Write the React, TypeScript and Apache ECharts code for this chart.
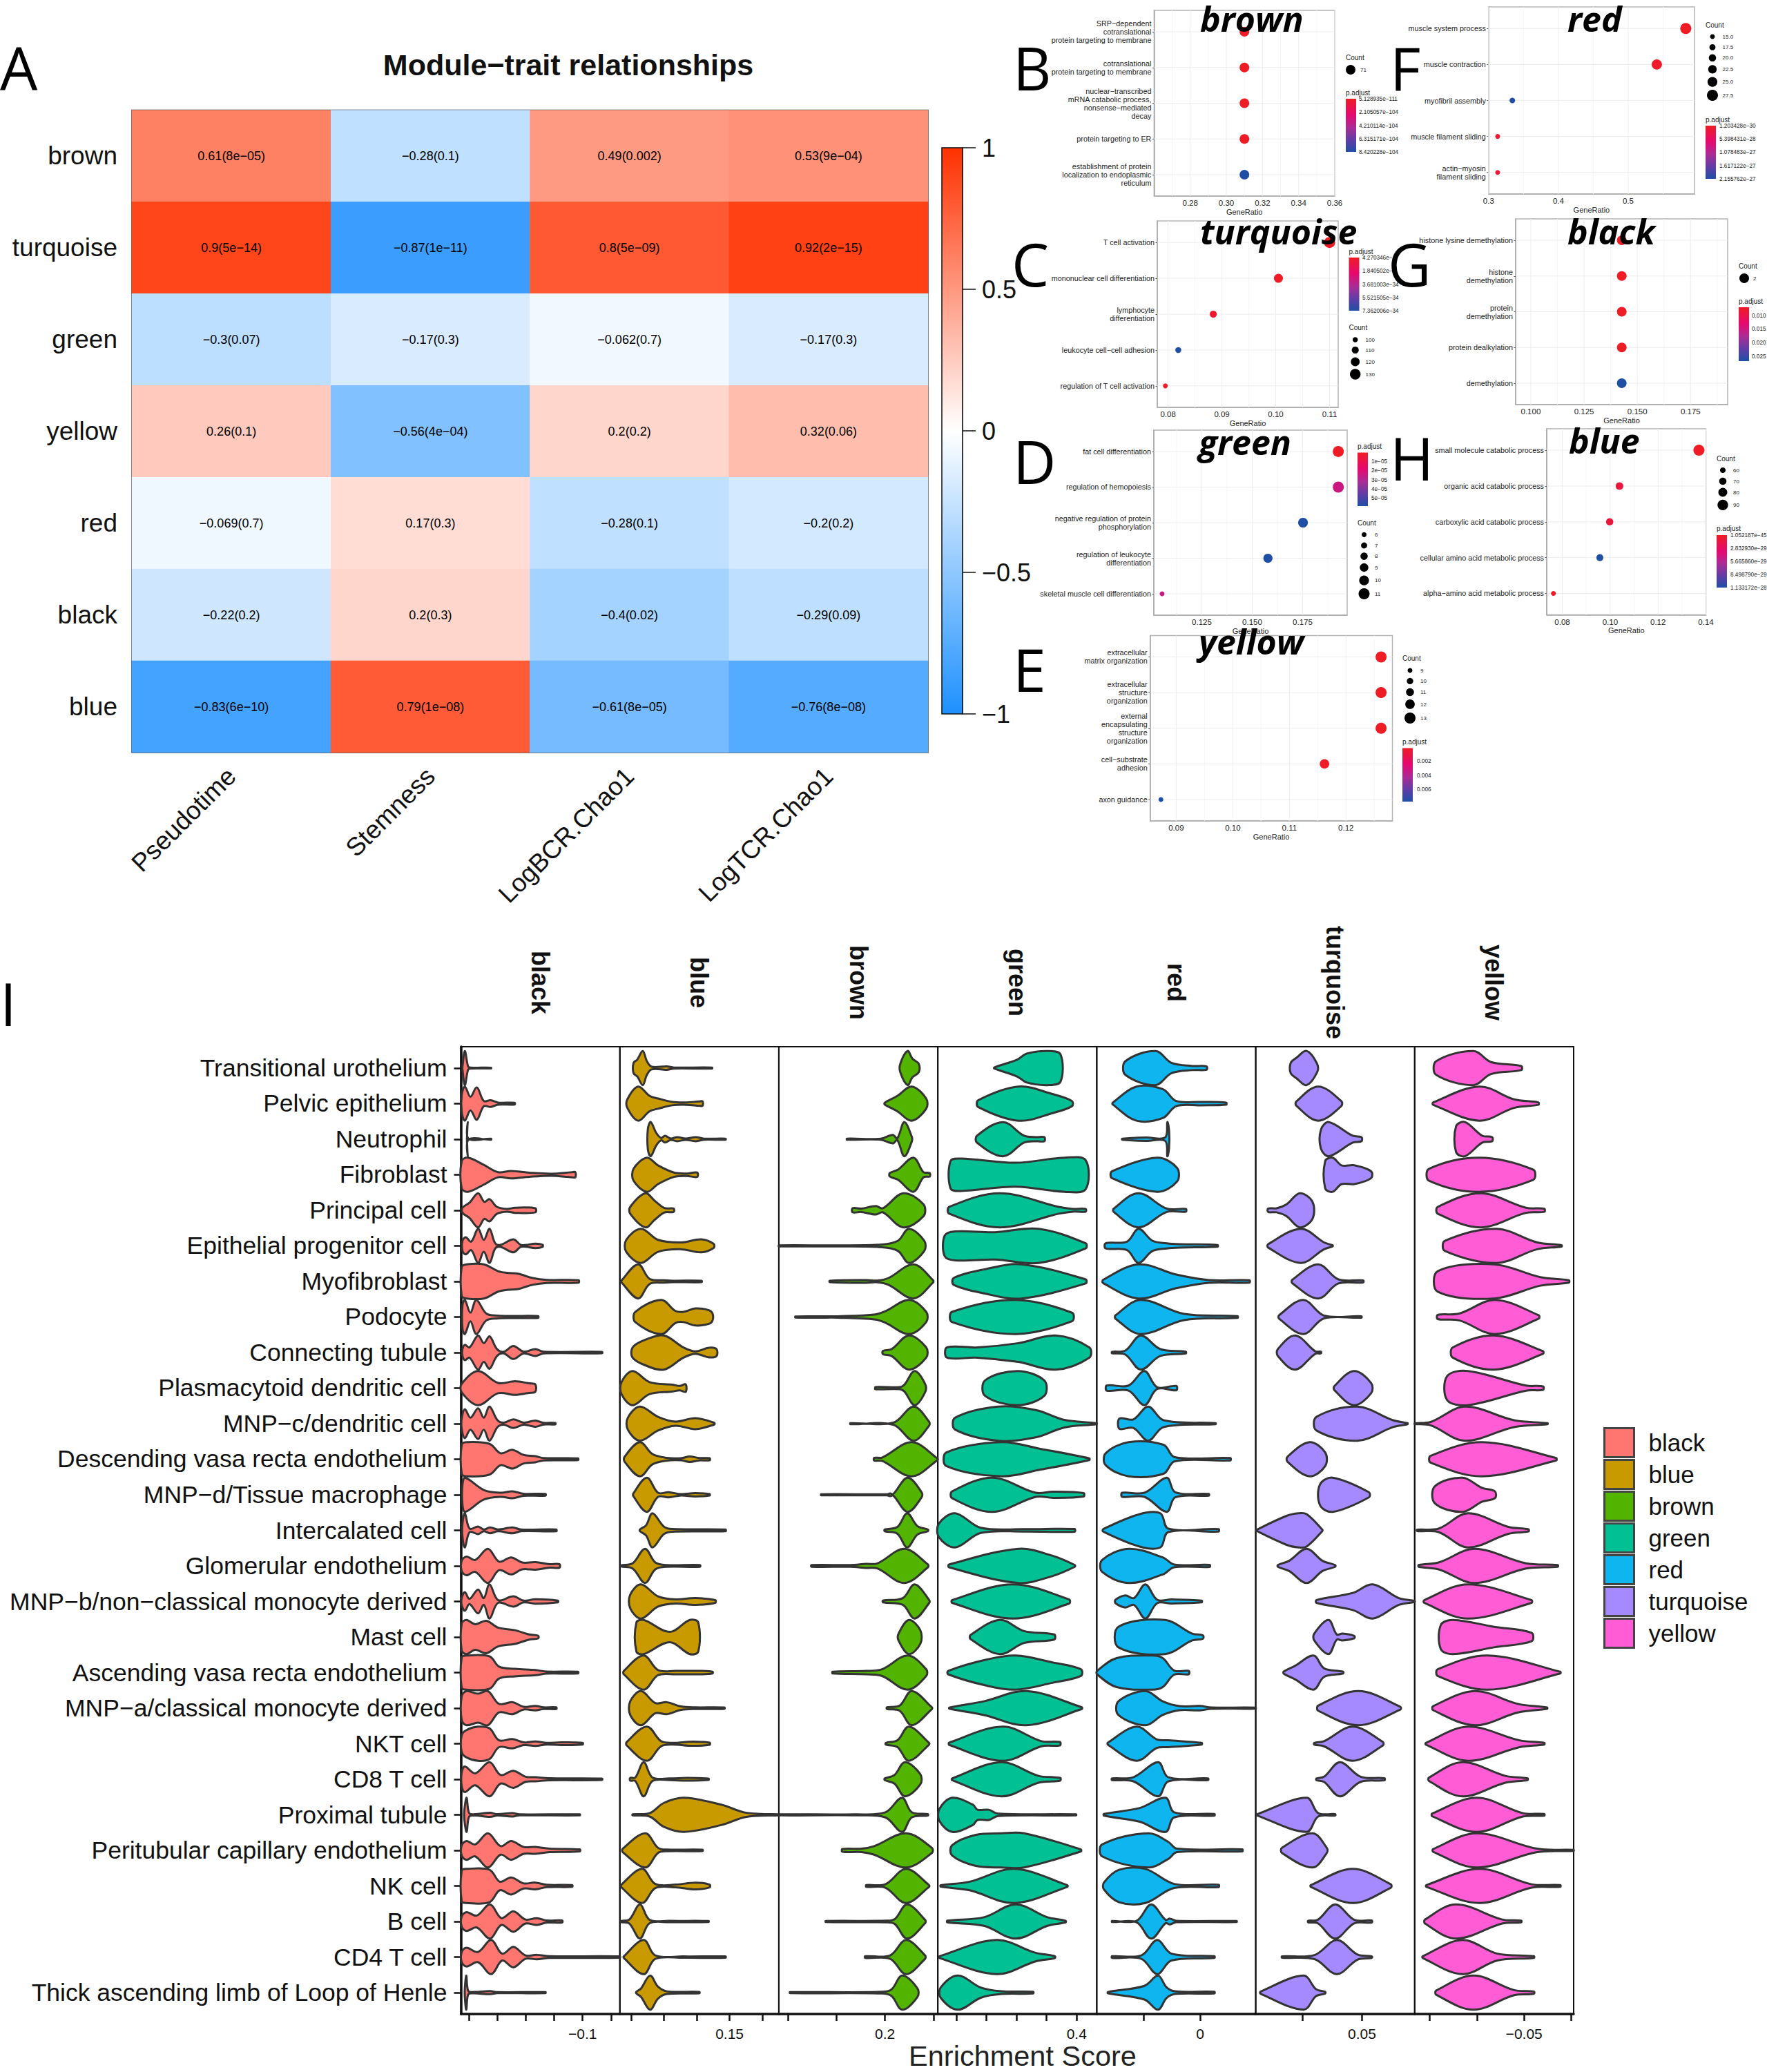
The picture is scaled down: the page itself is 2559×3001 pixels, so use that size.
import React, { useEffect, useRef } from "react";
import * as echarts from "echarts";

const SANS = "Liberation Sans";
const OPEN = "Open Sans";

/* ---------- A: module-trait heatmap data ---------- */
const modules = ["brown", "turquoise", "green", "yellow", "red", "black", "blue"];
const traits = ["Pseudotime", "Stemness", "LogBCR.Chao1", "LogTCR.Chao1"];
const corr = [
  [0.61, -0.28, 0.49, 0.53],
  [0.9, -0.87, 0.8, 0.92],
  [-0.3, -0.17, -0.062, -0.17],
  [0.26, -0.56, 0.2, 0.32],
  [-0.069, 0.17, -0.28, -0.2],
  [-0.22, 0.2, -0.4, -0.29],
  [-0.83, 0.79, -0.61, -0.76],
];
const pvals = [
  ["8e−05", "0.1", "0.002", "9e−04"],
  ["5e−14", "1e−11", "5e−09", "2e−15"],
  ["0.07", "0.3", "0.7", "0.3"],
  ["0.1", "4e−04", "0.2", "0.06"],
  ["0.7", "0.3", "0.1", "0.2"],
  ["0.2", "0.3", "0.02", "0.09"],
  ["6e−10", "1e−08", "8e−05", "8e−08"],
];
const colorbarTicks = [-1, -0.5, 0, 0.5, 1];

/* ---------- B–H: GO dot plot data ---------- */
const brownTerms = ["SRP−dependent\ncotranslational\nprotein targeting to membrane", "cotranslational\nprotein targeting to membrane", "nuclear−transcribed\nmRNA catabolic process,\nnonsense−mediated\ndecay", "protein targeting to ER", "establishment of protein\nlocalization to endoplasmic\nreticulum"];
const brownRatio = [0.31, 0.31, 0.31, 0.31, 0.31];
const brownCount = [71, 71, 71, 71, 71];
const brownPadj = [5.1e-111, 5.1e-111, 5.1e-111, 5.1e-111, 8.42e-104];

const redTerms = ["muscle system process", "muscle contraction", "myofibril assembly", "muscle filament sliding", "actin−myosin\nfilament sliding"];
const redRatio = [0.5825, 0.541, 0.334, 0.313, 0.313];
const redCount = [27.5, 26, 16.5, 15, 15];
const redPadj = [1.2e-30, 5e-29, 2.155e-27, 1.5e-28, 1.5e-28];

const turquoiseTerms = ["T cell activation", "mononuclear cell differentiation", "lymphocyte\ndifferentiation", "leukocyte cell−cell adhesion", "regulation of T cell activation"];
const turquoiseRatio = [0.11, 0.1005, 0.0884, 0.0819, 0.0795];
const turquoiseCount = [132, 121, 110, 104, 98];
const turquoisePadj = [4.27e-39, 1e-37, 3e-35, 7.36e-34, 3e-36];

const blackTerms = ["histone lysine demethylation", "histone\ndemethylation", "protein\ndemethylation", "protein dealkylation", "demethylation"];
const blackRatio = [0.1427, 0.1427, 0.1427, 0.1427, 0.1427];
const blackCount = [2, 2, 2, 2, 2];
const blackPadj = [0.0055, 0.0055, 0.0055, 0.0055, 0.028];

const greenTerms = ["fat cell differentiation", "regulation of hemopoiesis", "negative regulation of protein\nphosphorylation", "regulation of leukocyte\ndifferentiation", "skeletal muscle cell differentiation"];
const greenRatio = [0.1927, 0.1927, 0.1752, 0.1578, 0.1053];
const greenCount = [11, 11, 10, 9.5, 6];
const greenPadj = [2e-6, 2.4e-5, 5.6e-5, 5.6e-5, 2.6e-5];

const blueTerms = ["small molecule catabolic process", "organic acid catabolic process", "carboxylic acid catabolic process", "cellular amino acid metabolic process", "alpha−amino acid metabolic process"];
const blueRatio = [0.1371, 0.1039, 0.0998, 0.0957, 0.0763];
const blueCount = [93, 72, 70, 68, 55];
const bluePadj = [1e-45, 1e-29, 1e-29, 1.13e-28, 1e-30];

const yellowTerms = ["extracellular\nmatrix organization", "extracellular\nstructure\norganization", "external\nencapsulating\nstructure\norganization", "cell−substrate\nadhesion", "axon guidance"];
const yellowRatio = [0.1262, 0.1262, 0.1262, 0.1162, 0.0873];
const yellowCount = [13, 13, 13, 12, 9];
const yellowPadj = [1e-5, 1e-5, 1e-5, 1e-4, 0.0075];

/* ---------- I: violin data. Each row is a flat density profile:
   position (% along the panel's score range), relative density, ... ---------- */
const cellTypes = ["Transitional urothelium", "Pelvic epithelium", "Neutrophil", "Fibroblast", "Principal cell", "Epithelial progenitor cell", "Myofibroblast", "Podocyte", "Connecting tubule", "Plasmacytoid dendritic cell", "MNP−c/dendritic cell", "Descending vasa recta endothelium", "MNP−d/Tissue macrophage", "Intercalated cell", "Glomerular endothelium", "MNP−b/non−classical monocyte derived", "Mast cell", "Ascending vasa recta endothelium", "MNP−a/classical monocyte derived", "NKT cell", "CD8 T cell", "Proximal tubule", "Peritubular capillary endothelium", "NK cell", "B cell", "CD4 T cell", "Thick ascending limb of Loop of Henle"];

const violinBlack = [
  [1,.1,2.5,1,4.5,.1,6,.03,19,.02],
  [.5,.5,2.5,1,6,.4,10,.95,14.4,.15,18.7,.2,23.4,.06,33.8,.05],
  [3.8,.03,4.3,1,4.8,.03,19,.03],
  [.5,.8,4.5,1,14,.6,23.4,.15,31.6,.22,43,.12,57,.06,70,.15,72,.15],
  [1,.15,5.4,.45,10.8,1,14.7,.5,18,.65,22.7,.2,29,.08,34,.15,46.8,.12],
  [1,.3,3,.5,6.5,.25,10.8,1,14.4,.35,18,1,21.6,.15,25,.06,33,.38,38,.05,46.8,.13,51.4,.06],
  [.5,.85,3.5,1,14.4,1,23.4,.6,29,.5,36,.45,45,.2,54,.09,74,.07],
  [1,.7,2.5,1,6,.25,9.7,1,16,.2,23.4,.08,33,.06,48.6,.05],
  [1,.2,2.5,.45,5.4,.3,10.8,1,14.4,.55,18,.95,22.7,.2,27,.05,33,.38,39.5,.05,46.8,.2,52,.05,88.8,.04],
  [.5,.25,10.8,1,23.4,.3,34,.4,43,.28,46.8,.22],
  [.5,.3,2.5,.85,6,.35,10.8,.9,14.4,.35,18,1,23,.2,27,.06,33,.25,39.5,.06,46.8,.18,52,.05,59.4,.04],
  [.5,.85,3.5,1,18,.9,25,.35,32.4,.55,39.5,.25,46.8,.18,52,.07,73.7,.05],
  [1,.6,2.7,1,14.4,.28,25,.12,32.4,.2,39.5,.06,53.2,.05],
  [1,.4,2.5,1,5.5,.1,10.8,.22,14.4,.05,18.3,.17,23.4,.05,32.4,.17,37.8,.05,60,.05],
  [.5,.3,3.5,.55,9,.35,17,1,24,.25,31.6,.5,38.5,.2,46.8,.22,55.8,.1,62,.1],
  [.5,.2,2.5,.55,5.4,.15,10.8,.7,14.4,.2,18,1,23.4,.08,33,.3,39.5,.05,46.8,.13,61,.05],
  [.5,.8,3.5,1,9,.75,16,.95,23.4,.55,34,.4,43,.15,48.6,.08],
  [.5,.9,3.5,1,18,.95,24,.35,34,.22,46.8,.15,54,.06,73.7,.05],
  [.5,.7,3.5,1,10.8,.85,17,1,24,.25,32.4,.35,39.5,.08,46.8,.13,52,.05,60,.05],
  [.5,.5,3.5,.8,10.8,1,18,.9,24,.2,32.4,.27,39.5,.08,46.8,.13,54,.05,63,.08,76.6,.05],
  [.5,.4,2.5,.75,9,.35,18,1,25,.25,33,.5,40.6,.15,46.8,.12,55.8,.06,88.8,.04],
  [2.2,.3,3.6,1,5.2,.1,9,.04,18.3,.12,23,.04,32.4,.1,37,.03,74.8,.03],
  [.5,.3,3.5,.55,9,.35,17,1,25,.25,31.6,.55,39.5,.2,46.8,.2,55.8,.1,74.8,.06],
  [.5,.9,3.5,1,18,.95,24.5,.25,31.6,.5,39.5,.15,46.8,.2,54,.07,70,.05],
  [.5,.3,3.5,.55,10,.35,18.3,1,25.5,.2,33,.6,40.6,.12,47.8,.2,54,.06,63.7,.06],
  [.5,.3,3.5,.55,10.8,.3,19,1,26,.2,33,.6,40.6,.1,47.8,.13,55.8,.05,100,.04],
  [2.5,.3,3.4,1,4.6,.1,8,.04,18.3,.09,23,.03,53.2,.03],
];
const violinBlue = [
  [8.6,.3,11,.5,14.4,1,17,.4,20,.08,29.5,.1,34,.03,58,.03],
  [4.7,.25,11.5,1,18.7,.45,24,.3,33,.1,42,.07,50,.13,52,.13],
  [17.6,.6,19.4,1,23,.35,26,.07,28.4,.2,32,.04,36,.12,41.4,.04,47.8,.12,53,.03,66.5,.03],
  [8.6,.35,17,1,24,.55,34,.13,42,.07,48.6,.13],
  [6.5,.2,16,1,22,.55,28,.13,33.8,.1],
  [4,.35,13.3,1,24,.35,38.5,.2,51,.38,59,.12],
  [1,.05,11.5,1,18.7,.15,27.7,.07,34,.04,51.4,.04],
  [9.7,.3,26,1,35,.35,40,.3,47.5,.5,56,.4,58.3,.2],
  [8,.3,16,.75,27.7,1,40,.3,47.5,.07,56,.28,60.8,.2],
  [1,.35,8,1,18.7,.35,33,.2,37.7,.13,41.4,.22],
  [5,.35,12.6,1,24,.4,35,.12,47.5,.32,59.4,.05],
  [3,.15,12.6,1,20.5,.3,29.5,.08,38.5,.06,43.9,.16,50,.07,56.5,.06],
  [8.6,.1,17,1,24,.12,30.6,.15,38.5,.04,47.5,.1,56.5,.04],
  [12.6,.05,16.5,.3,20.5,1,27.7,.22,33,.08,66.5,.05],
  [.7,.03,8,.15,15.8,1,22.3,.2,29.5,.05,50.4,.05],
  [6.5,.4,13.3,1,24,.3,35,.12,47.5,.2,60,.08],
  [10.4,.85,15,1,31.3,.3,44,1,49.3,.85],
  [2.5,.1,15,1,24,.15,35,.1,51,.1,58.3,.05],
  [6.5,.4,13.3,1,22.3,.3,29.5,.35,38.5,.1,47.5,.05,65.8,.04],
  [4.3,.1,17,1,25.9,.15,33,.05,45.7,.12,56.5,.06],
  [6.5,.08,9.7,.1,15,1,20.5,.1,31.3,.05,42,.08,55.8,.04],
  [8,.03,18.7,.1,27.7,.7,40.3,1,63.7,.6,78,.15,89,.05,100,.03],
  [1.8,.1,16,1,24,.15,29.5,.05,52,.04],
  [1,.08,14,1,22.3,.12,35,.08,47.5,.2,56.5,.08],
  [.7,.03,6,.12,12.6,1,18.7,.1,31,.04,55.8,.03],
  [2.5,.05,15,1,22.3,.1,40,.04,66.5,.04],
  [10.4,.05,13.3,.25,19,1,24,.35,29.5,.08,50,.04],
];
const violinBrown = [
  [76.4,.25,81,1,84,.55,88,.25],
  [66.6,.05,74.5,.45,83.6,1,92.7,.3],
  [42.8,.03,64,.03,71.7,.25,74.5,.05,78.9,1,83.6,.15],
  [69.8,.1,75,.3,84.7,1,91,.15,94.9,.1],
  [46.4,.12,52,.1,61,.25,65.5,.12,78.2,1,91,.35],
  [0,.03,35,.03,65,.08,75,.3,81.8,1,91.5,.3],
  [32,.04,55,.08,62,.05,69,.2,84.7,1,97,.07],
  [10.4,.03,25,.04,37,.04,60.8,.15,67.3,.35,81.8,1,92.7,.3],
  [65.5,.1,70.9,.2,81.8,1,92.7,.3],
  [60.8,.06,76,.06,79,.2,85.4,1,92,.25],
  [45,.03,72,.06,84.7,1,94.5,.12],
  [60,.08,65,.1,83.6,1,99.8,.05],
  [26.6,.03,68,.03,70,.08,72,.05,81,1,89.8,.15],
  [66.6,.05,74.6,.2,80.7,1,87.2,.25,93.8,.05],
  [20.5,.05,45,.05,55,.12,62,.15,79,1,93.8,.08],
  [65.5,.05,78,.2,85.4,1,94.5,.1],
  [75.3,.2,81.8,1,89,.4],
  [33.8,.05,55,.1,65,.2,81,1,92.7,.2],
  [68,.05,76,.15,83.6,1,96.3,.05],
  [67.3,.05,74.6,.2,81.8,1,94.5,.05],
  [66.6,.05,72.7,.25,79.3,1,89,.3],
  [0,.03,48,.03,67,.15,77.5,1,83.6,.15,93.8,.04],
  [40,.08,52,.1,60,.25,80,1,96.3,.15],
  [55,.05,67,.1,80,1,94.5,.05],
  [29.5,.03,68,.05,73,.15,80.7,1,92,.1],
  [54.3,.05,70,.1,80,1,92,.1],
  [7,.03,65,.05,71,.2,77.5,1,87.2,.25],
];
const violinGreen = [
  [35.5,.03,50,.5,56,.85,69,1,77.2,.8],
  [25.4,.2,50.7,1,72.5,.55,84.4,.15],
  [24.6,.2,41,1,54.3,.2,62,.12,67,.12],
  [8,.8,14.5,.95,49,.7,79.7,1,93,.85],
  [7.2,.2,39,1,76,.2,85,.08,93,.08],
  [4.3,.6,10.9,.85,36,.8,63.4,1,93,.15],
  [10,.2,29,.7,52.5,1,93,.12],
  [9,.3,49,1,84.4,.25],
  [5.8,.3,25,.3,50.7,.55,74.3,1,95.3,.3],
  [29.7,.45,50,1,67,.45],
  [10.9,.35,38,1,61.6,.8,79.7,.22,100,.03],
  [5.4,.4,40,1,65,.6,95.3,.05],
  [9,.2,34.4,1,61.6,.12,72.5,.18,91.7,.1],
  [.7,.4,10.9,1,27,.15,54,.07,86,.08],
  [7,.08,50.7,1,72,.6,86.2,.05],
  [9,.08,47,1,82.6,.12],
  [20.6,.12,39,1,54.3,.35,73.2,.15],
  [6.5,.1,30,.75,49,1,72,.6,90,.2],
  [7.2,.03,29,.4,56,1,90.6,.05],
  [7.2,.07,41,1,65.2,.15,76.8,.1],
  [9,.05,40,1,63.4,.2,77,.08],
  [1,.35,9,1,22,.6,25,.3,32,.3,38,.07,87,.03],
  [9,.3,23.5,.9,40,1,54.3,1,90,.06],
  [1.8,.04,20,.25,48,1,81.5,.05],
  [6,.05,29,.25,49,1,69,.25,80.4,.05],
  [1,.05,37,1,61.6,.25,73.6,.06],
  [1.8,.3,12.7,1,27,.3,40,.08,60,.05],
];
const violinRed = [
  [18,.4,37,1,47,.3,60,.12,69,.1],
  [10,.05,25,1,41.5,.85,50,.15,65,.1,81.4,.06],
  [16,.03,31,.1,43,.1,44.4,1,45.5,.5],
  [9.6,.2,38,1,50.5,.4],
  [10.7,.1,26.3,1,44,.1,56,.08],
  [5.6,.15,19,.25,26.3,1,35,.3,44,.15,52,.1,76,.05],
  [4,.1,26.3,1,50,.4,70.5,.08,96,.07],
  [11.8,.1,27.7,1,55,.18,88.6,.05],
  [9.6,.04,18,.12,27.7,1,40,.2,56,.05],
  [6.3,.15,20,.15,30,1,38,.05,50,.13],
  [14.3,.3,23,.25,32.4,1,42,.2,74.8,.03],
  [5.6,.35,20,1,42,.85,49,.12,84,.07],
  [16,.12,30,.12,44,1,49.4,.15,70.5,.05],
  [4,.07,27,.95,40,1,45,.1,76.6,.07],
  [3.4,.35,20,1,41.5,.5,48.7,.08,71,.06],
  [11.8,.1,18,.35,23.4,.2,30.6,1,38,.1,47,.12,66,.05],
  [13.6,.6,43,1,60,.2,66.8,.1],
  [.2,.1,12.5,.85,35,1,41.5,.85,48.7,.12,57.8,.1],
  [13.6,.4,30.6,1,41.5,.4,52,.12,65,.13,72,.04,100,.03],
  [7,.06,25,1,37.8,.25,45,.2,66,.05],
  [9.6,.05,23,.12,38.6,1,45,.12,70,.05],
  [4.5,.05,27,.4,43.3,1,48.7,.15,74,.05],
  [3.4,.35,32.4,1,45,.5,50.5,.1,91.5,.06],
  [4.5,.2,14,.95,30.6,1,48.7,.12,76.6,.07],
  [9.6,.03,25,.04,34.2,1,43.3,.1,46,.17,50,.04,88,.03],
  [9.6,.05,28,.1,38,1,47,.2,74,.05],
  [7,.04,30,.4,38.6,1,44,.3,50,.07,74,.05],
];
const violinTurquoise = [
  [22,.3,25.6,.6,32,1,38.6,.25],
  [25.5,.12,39.3,1,53.8,.15],
  [41,.55,46,1,61,.2,66.5,.12],
  [43.7,.8,48.4,1,54,.55,62,.55,72.6,.2],
  [7.8,.1,13.2,.12,19.4,.35,27.7,1,35.7,.5],
  [7.8,.1,28.4,1,43,.2,48.4,.03],
  [23,.1,39.3,1,52,.12,67.6,.06],
  [14.7,.1,30,1,43,.08,66.5,.04],
  [13.9,.2,24.8,1,37.5,.07,41,.05],
  [49.5,.12,61.7,1,72.6,.3],
  [38.2,.4,64,1,86.4,.2,95.5,.03],
  [20,.15,33.8,1,43.7,.4],
  [40.4,.6,48.4,1,71.2,.15],
  [.5,.03,19.4,.85,27,1,32,.95,41.8,.05],
  [13.9,.05,21,.3,32,1,42,.3,50,.05],
  [38.2,.08,61,.5,73.7,1,90,.2,100,.03],
  [36.8,.2,45.8,1,51,.15,54.5,.2,62,.07],
  [17.6,.06,24.8,.4,36.4,1,43,.25,55,.05],
  [39.3,.15,64.7,1,91,.08],
  [36.8,.05,43,.15,61,1,80,.1],
  [38.2,.05,43,.15,53,1,66,.15,81,.06],
  [1,.04,32,1,39.3,.1,50,.04],
  [16.5,.15,35.7,1,44.7,.15],
  [34.6,.05,61,1,85,.1],
  [33,.05,39,.1,50,1,62,.1,73,.06],
  [16.5,.04,37,.12,51,1,64,.15,73,.05],
  [3,.06,30,1,38,.2,43.7,.05],
];
const violinYellow = [
  [13.5,.4,37,1,48,.35,67,.12],
  [11.6,.07,40.7,1,62.5,.25,77.8,.07],
  [26,.75,31.6,1,42.5,.2,48.7,.12],
  [9,.35,40.7,1,74.5,.3],
  [14.5,.2,41.5,1,70,.15,81.5,.09],
  [19,.3,51.6,1,77,.2,92.4,.04],
  [14.5,.6,50,1,79,.25,97,.07],
  [14.5,.12,28,.2,50.5,1,78,.1],
  [24,.3,50,1,80.7,.08],
  [20.4,.7,33.5,1,70,.15,80.7,.1],
  [0,.02,10,.1,31.6,1,62.5,.2,83.6,.03],
  [10,.2,42.5,1,89,.07],
  [12.7,.5,30,1,42.5,.4,50.5,.2],
  [1.5,.04,15,.1,33.5,1,59,.2,71.6,.06],
  [2.5,.05,15,.2,37.8,1,70,.15,90,.05],
  [6,.08,33.5,1,73.5,.08],
  [16.4,.7,24,1,50,.6,73.5,.25],
  [14.5,.2,46,1,91.6,.05],
  [11.6,.12,37.8,1,65,.25,83.3,.04],
  [7,.05,33.5,1,66,.2,81.5,.05],
  [9,.1,30,1,57,.2,71,.05],
  [11,.08,39,1,68,.1,81.5,.05],
  [11.6,.08,39,1,77,.1,100,.03],
  [7.3,.05,40.7,1,73.5,.1,91.6,.05],
  [6.5,.12,26,1,55,.12,67,.05],
  [5,.05,30,1,52,.2,75,.05],
  [13.5,.12,37,1,62.5,.15,75,.07],
];
const violinNames = ["black", "blue", "brown", "green", "red", "turquoise", "yellow"];
const violinProfiles = [violinBlack, violinBlue, violinBrown, violinGreen, violinRed, violinTurquoise, violinYellow];
const violinScale = [[-0.2071, -0.0672], [0.0663, 0.1876], [0.0908, 0.2544], [0.169, 0.4334], [-0.092, 0.0494], [-0.0398, 0.0946], [-0.166, 0.0026]];
const violinTicks = [[-0.2, -0.175, -0.15, -0.125, -0.1, -0.075], [0.075, 0.1, 0.125, 0.15, 0.175], [0.1, 0.15, 0.2, 0.25], [0.2, 0.25, 0.3, 0.35, 0.4], [-0.05, 0], [0, 0.05], [-0.15, -0.1, -0.05, 0]];
const violinLabelled = [-0.1, 0.15, 0.2, 0.4, 0, 0.05, -0.05];

/* ---------- styles and layout (kept apart from the data) ---------- */
const violinColors = ["#FF7570", "#C99A00", "#53B400", "#00C094", "#0FB5EE", "#A58AFF", "#FF5CD6"];
const padjStops: [number, string][] = [[0, "#EE1C25"], [0.3, "#E5096F"], [0.55, "#A92C97"], [0.78, "#5F3DA6"], [1, "#1F4FA5"]];
const heatLow = "#1E90FF";
const heatHigh = "#FF3000";
const minus = (s: string | number) => String(s).replace(/-/g, "−");

const dotPanels: any[] = [
  { title: "brown", tx: 1738, ty: 27, terms: brownTerms, ratio: brownRatio, count: brownCount, padj: brownPadj, box: [1671.4, 1933, 15, 284], xr: [0.26, 0.36], ticks: [0.28, 0.3, 0.32, 0.34, 0.36], dec: 2, cr: [71, 71], pr: [5.1e-111, 8.42e-104],
    countL: { x: 1949, ty: 83, dx: 1956, lx: 1970, ys: [101], vals: ["71"], cs: [71] },
    barL: { x: 1949, ty: 134, y0: 143, y1: 220, lx: 1968, ys: [143, 162.5, 182, 201, 220], vals: ["5.128935e−111", "2.105057e−104", "4.210114e−104", "6.315171e−104", "8.420228e−104"] } },
  { title: "red", tx: 2270, ty: 27, terms: redTerms, ratio: redRatio, count: redCount, padj: redPadj, box: [2155.8, 2454, 10, 281], xr: [0.3, 0.595], ticks: [0.3, 0.4, 0.5], dec: 1, cr: [15, 27.5], pr: [1.2e-30, 2.155e-27],
    countL: { x: 2470, ty: 36, dx: 2480, lx: 2494.6, ys: [53, 68.4, 83.8, 100.4, 118.6, 138], vals: ["15.0", "17.5", "20.0", "22.5", "25.0", "27.5"], cs: [15, 17.5, 20, 22.5, 25, 27.5] },
    barL: { x: 2470, ty: 173, y0: 182, y1: 259, lx: 2490, ys: [182, 201, 220.6, 240, 259], vals: ["1.203428e−30", "5.398431e−28", "1.078483e−27", "1.617122e−27", "2.155762e−27"] } },
  { title: "turquoise", tx: 1738, ty: 334.5, terms: turquoiseTerms, ratio: turquoiseRatio, count: turquoiseCount, padj: turquoisePadj, box: [1676, 1938, 320, 590], xr: [0.078, 0.1116], ticks: [0.08, 0.09, 0.1, 0.11], dec: 2, cr: [98, 132], pr: [4.27e-39, 7.36e-34],
    countL: { x: 1953.5, ty: 474.5, dx: 1962.7, lx: 1977.6, ys: [492, 507, 524, 542], vals: ["100", "110", "120", "130"], cs: [100, 110, 120, 130] },
    barL: { x: 1953.5, ty: 364, y0: 373, y1: 450, lx: 1973, ys: [373, 392.5, 412, 431, 450], vals: ["4.270346e−", "1.840502e−", "3.681003e−34", "5.521505e−34", "7.362006e−34"] } },
  { title: "black", tx: 2270, ty: 335, terms: blackTerms, ratio: blackRatio, count: blackCount, padj: blackPadj, box: [2195, 2502, 317, 586], xr: [0.0929, 0.1924], ticks: [0.1, 0.125, 0.15, 0.175], dec: 3, cr: [2, 2], pr: [0.0055, 0.028],
    countL: { x: 2518, ty: 385.5, dx: 2526, lx: 2539, ys: [403], vals: ["2"], cs: [2] },
    barL: { x: 2518, ty: 436.5, y0: 445, y1: 523, lx: 2537, ys: [457, 476.5, 496, 516], vals: ["0.010", "0.015", "0.020", "0.025"] } },
  { title: "green", tx: 1736, ty: 639.5, terms: greenTerms, ratio: greenRatio, count: greenCount, padj: greenPadj, box: [1671, 1951, 623, 891], xr: [0.1012, 0.1971], ticks: [0.125, 0.15, 0.175], dec: 3, cr: [6, 11], pr: [2e-6, 5.6e-5],
    countL: { x: 1966, ty: 757.4, dx: 1975.5, lx: 1991, ys: [774.4, 790, 805.6, 822, 840.7, 860], vals: ["6", "7", "8", "9", "10", "11"], cs: [6, 7, 8, 9, 10, 11] },
    barL: { x: 1966, ty: 646.4, y0: 655.5, y1: 733, lx: 1986, ys: [668.5, 681.5, 695, 708, 721], vals: ["1e−05", "2e−05", "3e−05", "4e−05", "5e−05"] } },
  { title: "blue", tx: 2272, ty: 637.5, terms: blueTerms, ratio: blueRatio, count: blueCount, padj: bluePadj, box: [2240, 2470.5, 621, 890.6], xr: [0.0735, 0.14], ticks: [0.08, 0.1, 0.12, 0.14], dec: 2, cr: [55, 93], pr: [1e-45, 1.13e-28],
    countL: { x: 2486, ty: 664, dx: 2495, lx: 2510, ys: [681, 697, 713, 731.4], vals: ["60", "70", "80", "90"], cs: [60, 70, 80, 90] },
    barL: { x: 2486, ty: 765.7, y0: 775, y1: 851, lx: 2506, ys: [775, 794, 813.4, 832.5, 851.5], vals: ["1.052187e−45", "2.832930e−29", "5.665860e−29", "8.498790e−29", "1.133172e−28"] } },
  { title: "yellow", tx: 1736, ty: 928.5, terms: yellowTerms, ratio: yellowRatio, count: yellowCount, padj: yellowPadj, box: [1665.7, 2016.5, 920.5, 1189], xr: [0.0854, 0.1282], ticks: [0.09, 0.1, 0.11, 0.12], dec: 2, cr: [9, 13], pr: [1e-5, 0.0075],
    countL: { x: 2031, ty: 953.5, dx: 2042, lx: 2057, ys: [971, 986.4, 1002.5, 1020, 1040], vals: ["9", "10", "11", "12", "13"], cs: [9, 10, 11, 12, 13] },
    barL: { x: 2031, ty: 1074, y0: 1083.5, y1: 1161, lx: 2052, ys: [1102, 1123, 1143], vals: ["0.002", "0.004", "0.006"] } },
];

const panelLetters: [string, number, number][] = [["A", 0, 97], ["B", 1467, 97], ["F", 2013, 97], ["C", 1465, 381], ["G", 2010, 381], ["D", 1467, 667], ["H", 2013, 662], ["E", 1467, 968], ["I", 0, 1452]];

const sizeOf = (c: number, cr: number[]) => (cr[0] === cr[1] ? 14 : 7 + ((c - cr[0]) / (cr[1] - cr[0])) * 9);

function hexLerp(a: string, b: string, t: number) {
  const pa = [1, 3, 5].map((i) => parseInt(a.substr(i, 2), 16));
  const pb = [1, 3, 5].map((i) => parseInt(b.substr(i, 2), 16));
  const c = pa.map((v, i) => Math.round(v + (pb[i] - v) * t));
  return `rgb(${c.join(",")})`;
}
function padjColor(p: number, pr: number[]) {
  const t = Math.min(1, Math.max(0, (p - pr[0]) / (pr[1] - pr[0])));
  for (let i = 1; i < padjStops.length; i++) {
    if (t <= padjStops[i][0]) {
      const [t0, c0] = padjStops[i - 1];
      const [t1, c1] = padjStops[i];
      return hexLerp(c0, c1, (t - t0) / (t1 - t0));
    }
  }
  return padjStops[padjStops.length - 1][1];
}

function buildOption() {
  const grid: any[] = [];
  const xAxis: any[] = [];
  const yAxis: any[] = [];
  const series: any[] = [];
  const gfx: any[] = [];
  const addGrid = (g: any) => { grid.push(g); return grid.length - 1; };
  const box = (x0: number, x1: number, y0: number, y1: number) => ({ left: x0, top: y0, width: x1 - x0, height: y1 - y0, containLabel: false });
  const text = (t: string, x: number, y: number, o: any = {}) => {
    const { rotation, ...st } = o;
    gfx.push({ type: "text", x, y, rotation: rotation || 0, z: o.z || 50, silent: true, style: { text: t, fontFamily: SANS, fontSize: 11, fill: "#111", align: "left", verticalAlign: "middle", ...st } });
  };

  /* A: heatmap */
  const g0 = addGrid({ ...box(191, 1344, 159.4, 1090), show: true, borderColor: "#333", borderWidth: 1.5, backgroundColor: "transparent" });
  xAxis.push({ gridIndex: g0, type: "category", data: traits, position: "bottom", axisTick: { show: false }, axisLine: { show: false }, axisLabel: { interval: 0, rotate: 45, fontSize: 37, fontFamily: SANS, color: "#111", margin: 28 } });
  yAxis.push({ gridIndex: g0, type: "category", data: modules, inverse: true, axisTick: { show: false }, axisLine: { show: false }, axisLabel: { interval: 0, fontSize: 37, fontFamily: SANS, color: "#111", margin: 21 } });
  const heatData: any[] = [];
  corr.forEach((row, r) => row.forEach((v, c) => heatData.push([c, r, v])));
  series.push({
    type: "heatmap", xAxisIndex: 0, yAxisIndex: 0, data: heatData,
    label: { show: true, fontSize: 18, fontFamily: SANS, color: "#000", formatter: (p: any) => `${minus(p.value[2])}(${pvals[p.value[1]][p.value[0]]})` },
    itemStyle: { borderWidth: 0 },
  });

  /* A: colour bar */
  const gc = addGrid({ ...box(1364, 1394, 214, 1034) });
  xAxis.push({ gridIndex: gc, type: "value", min: 0, max: 1, show: false });
  yAxis.push({
    gridIndex: gc, type: "value", min: -1, max: 1, interval: 0.5, position: "right", splitLine: { show: false },
    axisLine: { show: true, onZero: false, lineStyle: { color: "#111", width: 1.5 } }, axisTick: { show: true, length: 19, lineStyle: { color: "#111", width: 1.5 } },
    axisLabel: { fontSize: 36, fontFamily: SANS, color: "#111", margin: 28, customValues: colorbarTicks, formatter: (v: number) => minus(v) },
  });
  series.push({
    type: "custom", xAxisIndex: xAxis.length - 1, yAxisIndex: yAxis.length - 1, data: [[0, 0]], silent: true,
    renderItem: (_: any, api: any) => {
      const a = api.coord([0, 1]);
      const b = api.coord([1, -1]);
      return { type: "rect", shape: { x: a[0], y: a[1], width: b[0] - a[0], height: b[1] - a[1] }, style: { stroke: "#111", lineWidth: 1.5, fill: new echarts.graphic.LinearGradient(0, 0, 0, 1, [{ offset: 0, color: heatHigh }, { offset: 0.5, color: "#FFFFFF" }, { offset: 1, color: heatLow }]) } };
    },
  });

  text("Module−trait relationships", 823, 94, { fontSize: 43, fontWeight: "bold", align: "center", fill: "#111" });
  panelLetters.forEach(([t, x, y]) => text(t, x, y, { fontFamily: OPEN, fontSize: 86, fill: "#000", z: 60 }));

  /* B–H: dot plots */
  dotPanels.forEach((p) => {
    const [x0, x1, y0, y1] = p.box;
    const gi = addGrid({ ...box(x0, x1, y0, y1), show: true, borderColor: "#b4b4b4", borderWidth: 1.5 });
    const rows = p.terms.map((_: string, i: number) => i);
    xAxis.push({
      gridIndex: gi, type: "value", min: p.xr[0], max: p.xr[1], position: "bottom", splitLine: { show: false },
      axisLine: { show: true, onZero: false, lineStyle: { color: "#aaa", width: 1.5 } },
      axisTick: { show: false, customValues: p.ticks },
      axisLabel: { fontSize: 11.5, fontFamily: SANS, color: "#222", margin: 4, customValues: p.ticks, formatter: (v: number) => v.toFixed(p.dec) },
      name: "GeneRatio", nameLocation: "middle", nameGap: 17, nameTextStyle: { fontSize: 11, fontFamily: SANS, color: "#222" },
    });
    yAxis.push({
      gridIndex: gi, type: "value", min: -0.6, max: 4.6, inverse: true, splitLine: { show: false },
      axisLine: { show: true, onZero: false, lineStyle: { color: "#aaa", width: 1.5 } },
      axisTick: { show: true, length: 2.5, customValues: rows, lineStyle: { color: "#555" } },
      axisLabel: { fontSize: 10.8, lineHeight: 12, fontFamily: SANS, color: "#222", margin: 4, customValues: rows, align: "right", formatter: (v: number) => p.terms[Math.round(v)] },
    });
    const xi = xAxis.length - 1;
    const minors: number[] = [];
    const step = p.ticks[1] - p.ticks[0];
    for (let t = p.ticks[0] - step / 2; t < p.xr[1]; t += step) if (t > p.xr[0]) minors.push(t);
    series.push({
      type: "custom", xAxisIndex: xi, yAxisIndex: xi, data: [[p.xr[0], 0]], silent: true, z: 1, clip: false,
      renderItem: (_: any, api: any) => {
        const vline = (t: number, c: string) => { const a = api.coord([t, -0.6]); const b = api.coord([t, 4.6]); return { type: "line", shape: { x1: a[0], y1: a[1], x2: b[0], y2: b[1] }, style: { stroke: c, lineWidth: 1 } }; };
        const hline = (r: number) => { const a = api.coord([p.xr[0], r]); const b = api.coord([p.xr[1], r]); return { type: "line", shape: { x1: a[0], y1: a[1], x2: b[0], y2: b[1] }, style: { stroke: "#ececec", lineWidth: 1 } }; };
        return { type: "group", children: [...minors.map((t) => vline(t, "#f6f6f6")), ...p.ticks.map((t: number) => vline(t, "#eeeeee")), ...rows.map(hline)] };
      },
    });
    series.push({
      type: "scatter", xAxisIndex: xi, yAxisIndex: xi, z: 3, symbol: "circle",
      data: p.ratio.map((r: number, i: number) => [r, i, p.count[i], p.padj[i]]),
      symbolSize: (v: number[]) => sizeOf(v[2], p.cr),
      itemStyle: { color: (d: any) => padjColor(d.value[3], p.pr), opacity: 1 },
    });
    text(p.title, p.tx, p.ty, { fontFamily: OPEN, fontSize: 50, fontWeight: "bold", fontStyle: "italic", fill: "#000", z: 55 });

    const cl = p.countL;
    text("Count", cl.x, cl.ty, { fontSize: 10, fill: "#222" });
    cl.ys.forEach((y: number, i: number) => {
      gfx.push({ type: "circle", z: 50, silent: true, shape: { cx: cl.dx, cy: y, r: sizeOf(cl.cs[i], p.cr) / 2 }, style: { fill: "#000" } });
      text(cl.vals[i], cl.lx, y, { fontSize: 8, fill: "#222" });
    });
    const bl = p.barL;
    text("p.adjust", bl.x, bl.ty, { fontSize: 10, fill: "#222" });
    gfx.push({
      type: "rect", z: 50, silent: true, shape: { x: bl.x, y: bl.y0, width: 15, height: bl.y1 - bl.y0 },
      style: { fill: new echarts.graphic.LinearGradient(0, 0, 0, 1, padjStops.map(([offset, color]) => ({ offset, color }))) },
    });
    bl.ys.forEach((y: number, i: number) => text(bl.vals[i], bl.lx, y, { fontSize: 8.2, fill: "#222" }));
  });

  /* I: violins */
  const vLeft = 667.5;
  const vStep = (2279 - 667.5) / 7;
  violinNames.forEach((name, k) => {
    const L = vLeft + k * vStep;
    const gi = addGrid({ ...box(L, L + vStep, 1516, 2917), show: true, borderColor: "#111", borderWidth: 2 });
    const [lo, hi] = violinScale[k];
    xAxis.push({
      gridIndex: gi, type: "value", min: lo, max: hi, position: "bottom", splitLine: { show: false },
      axisLine: { show: true, onZero: false, lineStyle: { color: "#111", width: 3.5 } },
      axisTick: { show: true, length: 10, customValues: violinTicks[k], lineStyle: { color: "#111", width: 2.5 } },
      axisLabel: { fontSize: 21, fontFamily: SANS, color: "#111", margin: 18, customValues: [violinLabelled[k]], formatter: (v: number) => minus(v) },
    });
    yAxis.push({
      gridIndex: gi, type: "value", min: -0.6, max: 26.6, inverse: true, show: k === 0, splitLine: { show: false },
      axisLine: { show: true, onZero: false, lineStyle: { color: "#111", width: 3.5 } },
      axisTick: { show: true, length: 10, customValues: cellTypes.map((_, i) => i), lineStyle: { color: "#111", width: 2.5 } },
      axisLabel: { fontSize: 35.5, fontFamily: SANS, color: "#111", margin: 20, customValues: cellTypes.map((_, i) => i), formatter: (v: number) => cellTypes[Math.round(v)] },
    });
    const xi = xAxis.length - 1;
    const prof = violinProfiles[k].map((f) => {
      const pts: number[][] = [];
      for (let i = 0; i < f.length; i += 2) pts.push([lo + ((hi - lo) * f[i]) / 100, f[i + 1]]);
      return pts;
    });
    series.push({
      type: "custom", name, xAxisIndex: xi, yAxisIndex: xi, z: 4, clip: false, silent: true,
      itemStyle: { color: violinColors[k] },
      data: prof.map((pts, r) => [pts[0][0], r]),
      renderItem: (params: any, api: any) => {
        const r = params.dataIndex;
        const pts = prof[r];
        const top = pts.map((q) => api.coord([q[0], r - q[1] * 0.48]));
        const bot = pts.map((q) => api.coord([q[0], r + q[1] * 0.48])).reverse();
        return { type: "polygon", shape: { points: [...top, ...bot], smooth: 0.35 }, style: { fill: violinColors[k], stroke: "#333", lineWidth: 3, lineJoin: "round" } };
      },
    });
    text(name, L + vStep / 2, 1423, { fontSize: 36, fontWeight: "bold", align: "center", rotation: -Math.PI / 2, fill: "#111" });
  });
  text("Enrichment Score", 1481, 2977, { fontSize: 41.5, align: "center", fill: "#222" });

  return {
    animation: false,
    backgroundColor: "#fff",
    grid, xAxis, yAxis, series,
    visualMap: [{ show: false, seriesIndex: 0, dimension: 2, min: -1, max: 1, inRange: { color: [heatLow, "#FFFFFF", heatHigh] } }],
    legend: {
      show: true, orient: "vertical", left: 2317, top: 2062, itemWidth: 43, itemHeight: 42, itemGap: 1, selectedMode: false, icon: "rect",
      data: violinNames, itemStyle: { borderColor: "#444", borderWidth: 3 },
      textStyle: { fontSize: 35, fontFamily: SANS, color: "#111", padding: [0, 0, 0, 16] },
    },
    graphic: { elements: gfx },
  };
}

export default function App() {
  const ref = useRef<HTMLDivElement>(null);
  useEffect(() => {
    document.body.style.margin = "0";
    const chart = echarts.init(ref.current as HTMLDivElement, undefined, { renderer: "svg" });
    chart.setOption(buildOption() as any);
    return () => chart.dispose();
  }, []);
  return <div ref={ref} style={{ position: "absolute", left: 0, top: 0, width: 2559, height: 3001 }} />;
}
